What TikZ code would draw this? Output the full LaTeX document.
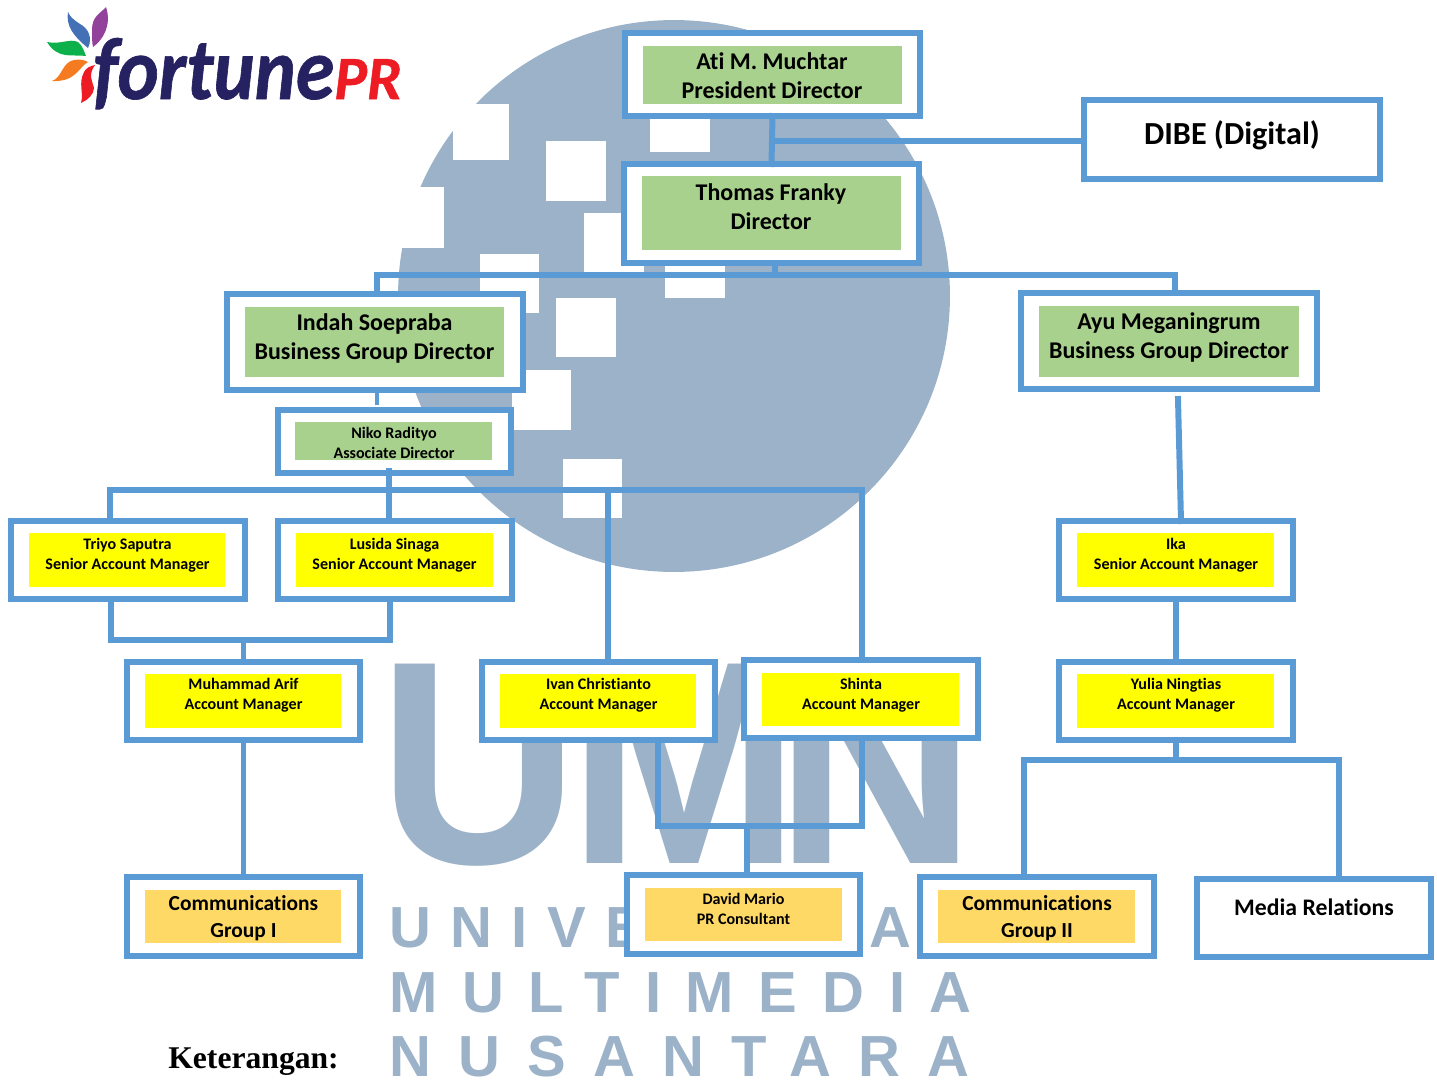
\documentclass[tikz,border=0pt]{standalone}
\usepackage{fontspec}
\setmainfont[Ligatures=NoCommon]{Carlito}
\newfontfamily\wmfont{Liberation Sans}
\newfontfamily\kfont{Liberation Serif}
\usepackage{xcolor}
\definecolor{linkblue}{HTML}{5B9BD5}
\definecolor{wmblue}{HTML}{9CB2C9}
\definecolor{leadgreen}{HTML}{A9D18E}
\definecolor{teamgold}{HTML}{FFD966}
\definecolor{teamyellow}{HTML}{FFFF00}
\definecolor{logonavy}{HTML}{262262}
\definecolor{logored}{HTML}{ED1C24}
\definecolor{logoblue}{HTML}{4470B6}
\definecolor{logopurple}{HTML}{93429B}
\definecolor{logogreen}{HTML}{0DB14B}
\definecolor{logoorange}{HTML}{F47B20}
\tikzset{
	outerbox/.style={draw=linkblue,line width=3.4pt,fill=white,inner sep=0pt,outer sep=0pt},
	fillbox/.style={inner sep=0pt,outer sep=0pt},
	link/.style={draw=linkblue,line width=3.4pt,line cap=rect},
	thinlink/.style={draw=linkblue,line width=1.8pt},
	bigtext/.style={font=\fontsize{13.65}{16.4}\selectfont\bfseries,align=center,text=black},
	midtext/.style={font=\fontsize{12.2}{15.4}\selectfont\bfseries,align=center,text=black},
	smalltext/.style={font=\fontsize{9.15}{11.2}\selectfont\bfseries,align=center,text=black},
	wmtext/.style={anchor=base west,inner sep=0pt,text=wmblue,font=\wmfont\fontsize{33}{33}\selectfont\bfseries}
}
\begin{document}
\begin{tikzpicture}[x=0.02cm,y=-0.02cm]
	\useasboundingbox (0,0) rectangle (1437,1079);
	% watermark
	\fill[wmblue] (674,296) circle (5.52cm);
	\fill[white] (453,104) rectangle (509,160);
	\fill[white] (385,187) rectangle (444,248);
	\fill[white] (546,141) rectangle (606,201);
	\fill[white] (584,213) rectangle (644,273);
	\fill[white] (480,254) rectangle (539,313);
	\fill[white] (556,298) rectangle (616,357);
	\fill[white] (665,238) rectangle (725,298);
	\fill[white] (650,92) rectangle (710,152);
	\fill[white] (512,370) rectangle (571,430);
	\fill[white] (563,459) rectangle (622,518);
	\node[anchor=base west,inner sep=0pt,text=wmblue,font=\wmfont\fontsize{165}{165}\selectfont\bfseries] (wmumn) at (378,863) {\scalebox{0.96}[1]{U\kern-6.5pt M\kern-14.7pt N}};
	\node[wmtext] (wmrowa) at (389,947) {\addfontfeature{LetterSpace=33.5}UNIVERSITAS};
	\node[wmtext] (wmrowb) at (389,1012) {\addfontfeature{LetterSpace=42.7}MULTIMEDIA};
	\node[wmtext] (wmrowc) at (389,1076.5) {\addfontfeature{LetterSpace=46.8}NUSANTARA};
	% logo
	\fill[logoblue] (68,12) .. controls (66,25) and (72,35) .. (88,48) .. controls (93,38) and (88,28) .. (80,24) .. controls (74,20) and (70,17) .. (68,12) -- cycle;
	\fill[logopurple] (106,7) .. controls (100,14) and (92,16) .. (92,30) .. controls (92,38) and (92,42) .. (93,47) .. controls (103,40) and (112,25) .. (106,7) -- cycle;
	\fill[logogreen] (47,42) .. controls (60,45) and (70,38) .. (78,42) .. controls (82,46) .. (86,56) .. controls (72,54) and (58,60) .. (47,42) -- cycle;
	\fill[logoorange] (52,81) .. controls (62,78) and (62,62) .. (74,60) .. controls (80,59) and (85,60) .. (88,62) .. controls (78,68) and (76,82) .. (52,81) -- cycle;
	\fill[logored] (81,103) .. controls (84,92) and (78,84) .. (84,72) .. controls (86,68) and (90,66) .. (95,65) .. controls (88,75) and (92,80) .. (94,88) .. controls (94,94) and (88,100) .. (81,103) -- cycle;
	\node[anchor=base west,inner sep=0pt,text=logonavy,font=\fontsize{50}{50}\selectfont\bfseries\itshape] (logoname) at (93,99) {\scalebox{0.89}[1]{\addfontfeature{FakeBold=0.8}fortune}};
	\node[anchor=base west,inner sep=0pt,text=logored,font=\fontsize{35}{35}\selectfont\bfseries\itshape] (logopr) at (334,99) {\addfontfeature{FakeBold=0.8}PR};
	% top
	\node[outerbox,minimum width=5.9cm,minimum height=1.66cm] (ati) at (772.5,74.5) {};
	\node[fillbox,fill=leadgreen,minimum width=5.18cm,minimum height=1.16cm] (atifill) at (772.5,75) {};
	\node[bigtext] (atitext) at (772,76) {Ati M. Muchtar\\President Director};
	\node[outerbox,minimum width=5.9cm,minimum height=1.98cm] (thomas) at (771.5,213.5) {};
	\node[fillbox,fill=leadgreen,minimum width=5.18cm,minimum height=1.48cm] (thomasfill) at (771.5,213) {};
	\node[bigtext] (thomastext) at (771,206.5) {Thomas Franky\\Director};
	\node[outerbox,minimum width=5.92cm,minimum height=1.58cm] (dibe) at (1232,139.5) {};
	\node[text=black,font=\fontsize{18.3}{20}\selectfont\bfseries] (dibetext) at (1232,135.5) {DIBE (Digital)};
	% business groups
	\node[outerbox,minimum width=5.92cm,minimum height=1.92cm] (indah) at (375,342) {};
	\node[fillbox,fill=leadgreen,minimum width=5.18cm,minimum height=1.40cm] (indahfill) at (374.5,342) {};
	\node[bigtext] (indahtext) at (374.5,338.5) {Indah Soepraba\\Business Group Director};
	\node[outerbox,minimum width=5.92cm,minimum height=1.92cm] (ayu) at (1169,341) {};
	\node[fillbox,fill=leadgreen,minimum width=5.2cm,minimum height=1.42cm] (ayufill) at (1169,341.5) {};
	\node[bigtext] (ayutext) at (1169,337.5) {Ayu Meganingrum\\Business Group Director};
	\node[outerbox,minimum width=4.66cm,minimum height=1.26cm] (niko) at (394.5,441.5) {};
	\node[fillbox,fill=leadgreen,minimum width=3.94cm,minimum height=0.76cm] (nikofill) at (393.5,441) {};
	\node[smalltext] (nikotext) at (394,443) {Niko Radityo\\Associate Director};
	% senior account managers
	\node[outerbox,minimum width=4.68cm,minimum height=1.56cm] (triyo) at (128,560) {};
	\node[fillbox,fill=teamyellow,minimum width=3.92cm,minimum height=1.08cm] (triyofill) at (127,560) {};
	\node[smalltext] (triyotext) at (127.5,555) {Triyo Saputra\\Senior Account Manager};
	\node[outerbox,minimum width=4.68cm,minimum height=1.56cm] (lusida) at (395,560) {};
	\node[fillbox,fill=teamyellow,minimum width=3.94cm,minimum height=1.08cm] (lusidafill) at (394.5,560) {};
	\node[smalltext] (lusidatext) at (394.5,555) {Lusida Sinaga\\Senior Account Manager};
	\node[outerbox,minimum width=4.68cm,minimum height=1.56cm] (ika) at (1176,560) {};
	\node[fillbox,fill=teamyellow,minimum width=3.94cm,minimum height=1.08cm] (ikafill) at (1175.5,560) {};
	\node[smalltext] (ikatext) at (1176,555) {Ika\\Senior Account Manager};
	% account managers
	\node[outerbox,minimum width=4.66cm,minimum height=1.56cm] (arif) at (243.5,701) {};
	\node[fillbox,fill=teamyellow,minimum width=3.92cm,minimum height=1.08cm] (ariffill) at (243,701) {};
	\node[smalltext] (ariftext) at (243.5,695.5) {Muhammad Arif\\Account Manager};
	\node[outerbox,minimum width=4.66cm,minimum height=1.56cm] (ivan) at (598.5,701) {};
	\node[fillbox,fill=teamyellow,minimum width=3.92cm,minimum height=1.08cm] (ivanfill) at (598,701) {};
	\node[smalltext] (ivantext) at (598.5,695.5) {Ivan Christianto\\Account Manager};
	\node[outerbox,minimum width=4.68cm,minimum height=1.56cm] (shinta) at (861,699) {};
	\node[fillbox,fill=teamyellow,minimum width=3.94cm,minimum height=1.06cm] (shintafill) at (860.5,699.5) {};
	\node[smalltext] (shintatext) at (861,695) {Shinta\\Account Manager};
	\node[outerbox,minimum width=4.68cm,minimum height=1.56cm] (yulia) at (1176,701) {};
	\node[fillbox,fill=teamyellow,minimum width=3.94cm,minimum height=1.08cm] (yuliafill) at (1175.5,701) {};
	\node[smalltext] (yuliatext) at (1176,695.5) {Yulia Ningtias\\Account Manager};
	% bottom row
	\node[outerbox,minimum width=4.66cm,minimum height=1.58cm] (groupa) at (243.5,916.5) {};
	\node[fillbox,fill=teamgold,minimum width=3.92cm,minimum height=1.06cm] (groupafill) at (243,916.5) {};
	\node[midtext] (groupatext) at (243.5,918.5) {Communications\\Group I};
	\node[outerbox,minimum width=4.66cm,minimum height=1.58cm] (david) at (743.5,914.5) {};
	\node[fillbox,fill=teamgold,minimum width=3.94cm,minimum height=1.06cm] (davidfill) at (743.5,914.5) {};
	\node[smalltext] (davidtext) at (743.5,909) {David Mario\\PR Consultant};
	\node[outerbox,minimum width=4.68cm,minimum height=1.58cm] (groupb) at (1037,916.5) {};
	\node[fillbox,fill=teamgold,minimum width=3.94cm,minimum height=1.06cm] (groupbfill) at (1036.5,916.5) {};
	\node[midtext] (groupbtext) at (1037,918.5) {Communications\\Group II};
	\node[outerbox,minimum width=4.68cm,minimum height=1.56cm] (media) at (1314,918) {};
	\node[text=black,font=\fontsize{13.5}{15}\selectfont\bfseries] (mediatext) at (1314,907) {Media Relations};
	% free ends and bends of the connectors
	\coordinate (dibebranch) at (772,141);
	\coordinate (busleft) at (377,275);
	\coordinate (busright) at (1175,275);
	\coordinate (busmid) at (775,275);
	\coordinate (indahdrop) at (377,390);
	\coordinate (nikoin) at (377,405);
	\coordinate (nikoout) at (389,471);
	\coordinate (teamleft) at (110,490);
	\coordinate (teamivan) at (608,490);
	\coordinate (teamshinta) at (862,490);
	\coordinate (teamlusida) at (389,521);
	\coordinate (pairleft) at (111,640);
	\coordinate (pairright) at (390,640);
	\coordinate (ayustub) at (1178,399);
	\coordinate (ikain) at (1181,521);
	\coordinate (consultleft) at (658,826);
	\coordinate (consultright) at (862,826);
	\coordinate (consultmid) at (747,826);
	\coordinate (splitleft) at (1024,760);
	\coordinate (splitright) at (1339,760);
	% connectors
	\draw[link] (ati.south) -- (thomas.north);
	\draw[link] (dibebranch) -- (dibe.west |- dibebranch);
	\draw[link] (thomas.south -| busmid) -- (busmid);
	\draw[link] (indah.north -| busleft) -- (busleft) -- (busright) -- (ayu.north -| busright);
	\draw[thinlink] (indahdrop) -- (nikoin);
	\draw[link] (nikoout) -- (teamlusida);
	\draw[link] (triyo.north -| teamleft) -- (teamleft) -- (teamshinta) -- (shinta.north -| teamshinta);
	\draw[link] (teamivan) -- (ivan.north -| teamivan);
	\draw[link] (triyo.south -| pairleft) -- (pairleft) -- (pairright) -- (lusida.south -| pairright);
	\draw[link] (pairleft -| arif.north) -- (arif.north);
	\draw[link] (arif.south) -- (groupa.north);
	\draw[link] (ivan.south -| consultleft) -- (consultleft) -- (consultright) -- (shinta.south -| consultright);
	\draw[link] (consultmid) -- (david.north -| consultmid);
	\draw[link] (ayustub) -- (ikain);
	\draw[link] (ika.south) -- (yulia.north);
	\draw[link] (yulia.south) -- (yulia.south |- splitleft);
	\draw[link] (groupb.north -| splitleft) -- (splitleft) -- (splitright) -- (media.north -| splitright);
	\node[anchor=base west,inner sep=0pt,text=black,font=\kfont\fontsize{18}{18}\selectfont\bfseries] (keterangan) at (168,1068) {Keterangan:};
\end{tikzpicture}
\end{document}
